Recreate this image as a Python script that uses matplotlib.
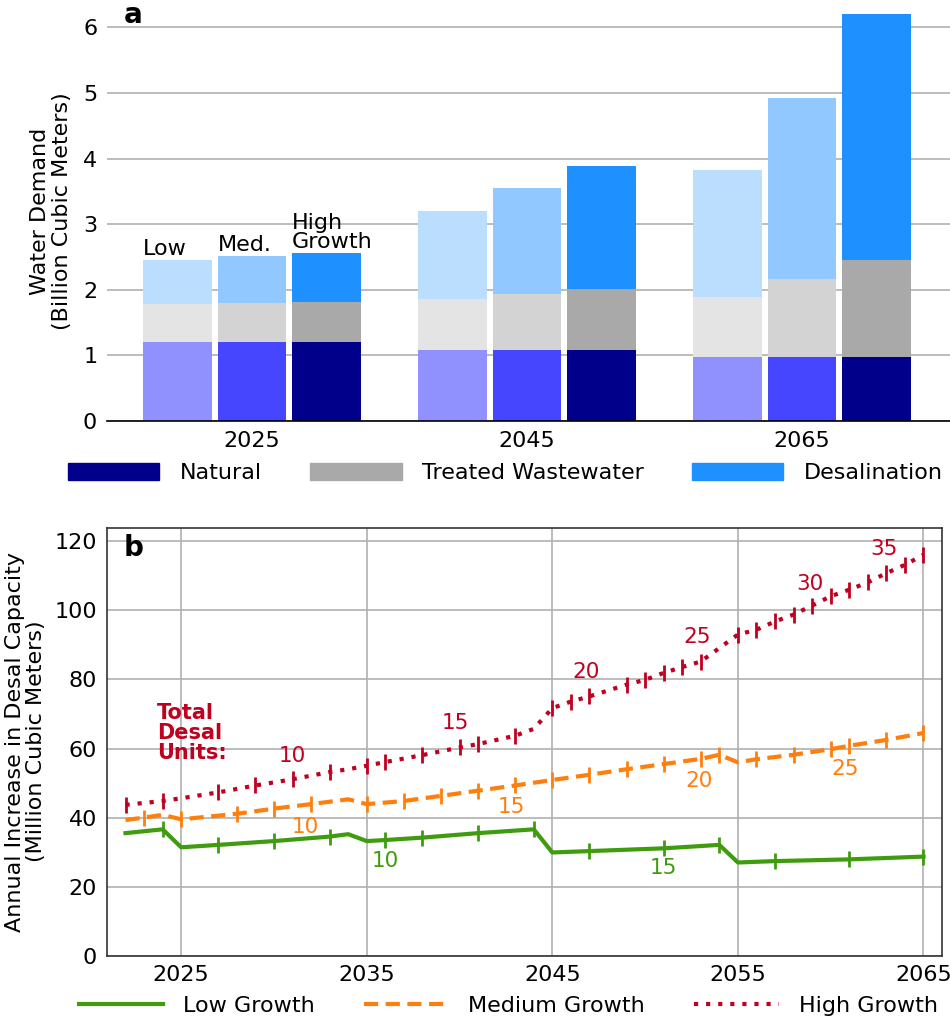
import numpy as np
import matplotlib
matplotlib.use('Agg')
import matplotlib.pyplot as plt
from matplotlib.patches import Patch
from matplotlib.lines import Line2D

# ---- panel a: water demand (billion m3) ----
periods = ['2025', '2045', '2065']
scenarios = ['Low', 'Med.', 'High\nGrowth']
natural = {'Low': [1.20, 1.09, 0.98], 'Med.': [1.20, 1.09, 0.98], 'High': [1.20, 1.09, 0.98]}
treated = {'Low': [0.59, 0.77, 0.91], 'Med.': [0.60, 0.85, 1.18], 'High': [0.61, 0.93, 1.48]}
desal = {'Low': [0.66, 1.34, 1.93], 'Med.': [0.71, 1.61, 2.77], 'High': [0.75, 1.87, 3.74]}

nat_colors = ['#9090ff', '#4646ff', '#00008b']
trt_colors = ['#e4e4e4', '#d3d3d3', '#a9a9a9']
des_colors = ['#bbdeff', '#90c8ff', '#1e90ff']

# ---- panel b: annual increase in desal capacity (million m3) ----
low_years = [2022, 2024, 2025, 2027, 2030, 2033, 2034, 2035, 2036, 2038, 2041, 2044,
             2045, 2047, 2051, 2054, 2055, 2057, 2061, 2065]
low_vals = [35.5, 36.6, 31.4, 32.1, 33.2, 34.5, 35.2, 33.2, 33.5, 34.2, 35.5, 36.6,
            29.9, 30.3, 31.1, 32.1, 27.0, 27.4, 27.9, 28.7]
low_marks = [2024, 2027, 2030, 2033, 2036, 2038, 2041, 2044, 2047, 2051, 2054, 2057, 2061, 2065]

med_years = [2022, 2023, 2024, 2025, 2028, 2030, 2032, 2034, 2035, 2037, 2039, 2041, 2043,
             2045, 2047, 2049, 2051, 2053, 2054, 2055, 2056, 2058, 2060, 2061, 2063, 2065]
med_vals = [39.3, 40.0, 40.8, 39.5, 41.1, 42.6, 43.9, 45.3, 43.9, 44.8, 46.3, 47.8, 49.3,
            50.9, 52.4, 54.0, 55.5, 57.0, 58.2, 56.0, 56.9, 58.2, 59.8, 60.8, 62.5, 64.5]
med_marks = [2023, 2025, 2028, 2030, 2032, 2035, 2037, 2039, 2041, 2043, 2045, 2047, 2049,
             2051, 2053, 2054, 2056, 2058, 2060, 2061, 2063, 2065]

high_years = [2022, 2024, 2025, 2027, 2029, 2031, 2033, 2034, 2035, 2036, 2038, 2040, 2041,
              2043, 2044, 2045, 2046, 2047, 2049, 2050, 2051, 2052, 2053, 2054, 2055, 2056,
              2057, 2058, 2059, 2060, 2061, 2062, 2063, 2064, 2065]
high_vals = [43.7, 44.8, 45.6, 47.3, 49.3, 51.1, 53.2, 54.0, 55.0, 56.1, 58.1, 60.3, 61.3,
             63.7, 65.7, 71.7, 73.6, 75.1, 78.5, 79.9, 81.9, 83.6, 85.2, 89.1, 93.0, 94.4,
             96.8, 98.8, 101.4, 104.1, 106.0, 108.1, 110.8, 113.2, 116.1]
high_marks = [2022, 2024, 2027, 2029, 2031, 2033, 2035, 2036, 2038, 2040, 2041, 2043, 2045,
              2046, 2047, 2049, 2050, 2051, 2052, 2053, 2055, 2056, 2057, 2058, 2059, 2060,
              2061, 2062, 2063, 2064, 2065]

# unit count labels: (year, value, text)
low_labels = [(2036.0, 27.5, '10'), (2051.0, 25.5, '15')]
med_labels = [(2031.7, 37.3, '10'), (2042.8, 43.0, '15'), (2052.9, 50.6, '20'), (2060.8, 54.1, '25')]
high_labels = [(2031.0, 57.8, '10'), (2039.8, 67.3, '15'), (2046.8, 82.1, '20'),
               (2052.8, 92.3, '25'), (2058.9, 107.6, '30'), (2062.9, 117.7, '35')]

green = '#3f9c0f'
orange = '#ff7f0e'
red = '#c0001f'
dash = (0, (3.4, 1.8))
dots = (0, (1, 1.9))

plt.rcParams['font.family'] = 'DejaVu Sans'
plt.rcParams['font.size'] = 16

fig = plt.figure(figsize=(9.5, 10.19), dpi=100)

# ---------- panel a ----------
ax1 = fig.add_axes([0.1126, 0.5868, 0.8874, 0.412])
x = np.arange(len(periods))
step = 0.27
width = 0.25
keys = ['Low', 'Med.', 'High']
for i, k in enumerate(keys):
    xi = x + (i - 1) * step
    n = np.array(natural[k])
    t = np.array(treated[k])
    d = np.array(desal[k])
    ax1.bar(xi, n, width, color=nat_colors[i], zorder=2)
    ax1.bar(xi, t, width, bottom=n, color=trt_colors[i], zorder=2)
    ax1.bar(xi, d, width, bottom=n + t, color=des_colors[i], zorder=2)
    ax1.text(xi[0] - width / 2, (n + t + d)[0] + 0.02, scenarios[i],
             ha='left', va='bottom', fontsize=16, linespacing=0.95)

ax1.set_xlim(-0.527, 2.538)
ax1.set_ylim(0, 6.4)
ax1.set_xticks(x)
ax1.set_xticklabels(periods)
ax1.set_yticks(range(0, 7))
ax1.tick_params(length=0, pad=7)
ax1.grid(axis='y', color='#b0b0b0', lw=1.2)
ax1.set_axisbelow(True)
for s in ['top', 'right', 'left']:
    ax1.spines[s].set_visible(False)
ax1.spines['bottom'].set_linewidth(1.2)
ax1.set_ylabel('Water Demand\n(Billion Cubic Meters)', fontsize=16, labelpad=8,
               linespacing=1.1)
ax1.text(0.02, 1.0, 'a', transform=ax1.transAxes, fontsize=20, fontweight='bold',
         va='top', ha='left')

handles = [Patch(color=nat_colors[2], label='Natural'),
           Patch(color=trt_colors[2], label='Treated Wastewater'),
           Patch(color=des_colors[2], label='Desalination')]
fig.legend(handles=handles, loc='center', bbox_to_anchor=(0.532, 0.536), ncol=3,
           frameon=False, fontsize=16, handlelength=4.1, handleheight=0.85,
           handletextpad=0.9, columnspacing=2.2)

# ---------- panel b ----------
ax2 = fig.add_axes([0.1126, 0.0621, 0.879, 0.4202])
ax2.plot(low_years, low_vals, color=green, lw=3, ls='-', marker='|', ms=11, mew=2,
         markevery=[low_years.index(y) for y in low_marks], label='Low Growth')
ax2.plot(med_years, med_vals, color=orange, lw=3, ls=dash, marker='|', ms=11, mew=2,
         markevery=[med_years.index(y) for y in med_marks], label='Medium Growth')
ax2.plot(high_years, high_vals, color=red, lw=3, ls=dots, marker='|', ms=11, mew=2,
         markevery=[high_years.index(y) for y in high_marks], label='High Growth')

for yr, v, s in low_labels:
    ax2.text(yr, v, s, color=green, ha='center', va='center', fontsize=15.5)
for yr, v, s in med_labels:
    ax2.text(yr, v, s, color=orange, ha='center', va='center', fontsize=15.5)
for yr, v, s in high_labels:
    ax2.text(yr, v, s, color=red, ha='center', va='center', fontsize=15.5)
ax2.text(2023.7, 64.5, 'Total\nDesal\nUnits:', color=red, fontsize=15, fontweight='bold',
         ha='left', va='center', linespacing=1.0)

ax2.set_xlim(2021, 2066)
ax2.set_ylim(0, 124)
ax2.set_xticks([2025, 2035, 2045, 2055, 2065])
ax2.set_yticks(range(0, 121, 20))
ax2.tick_params(length=0, pad=7)
ax2.grid(color='#b0b0b0', lw=1.2)
ax2.set_axisbelow(True)
for s in ax2.spines.values():
    s.set_color('#333333')
    s.set_linewidth(1.2)
ax2.set_ylabel('Annual Increase in Desal Capacity\n(Million Cubic Meters)', fontsize=16,
               labelpad=6, linespacing=1.1)
ax2.text(0.02, 0.985, 'b', transform=ax2.transAxes, fontsize=20, fontweight='bold',
         va='top', ha='left')

lh = [Line2D([0], [0], color=green, lw=3, ls='-'),
      Line2D([0], [0], color=orange, lw=3, ls=dash),
      Line2D([0], [0], color=red, lw=3, ls=dots)]
fig.legend(lh, ['Low Growth', 'Medium Growth', 'High Growth'], loc='center',
           bbox_to_anchor=(0.535, 0.013), ncol=3, frameon=False, fontsize=16,
           handlelength=3.8, handletextpad=0.9, columnspacing=2.2)

fig.savefig('out.png', dpi=100)
